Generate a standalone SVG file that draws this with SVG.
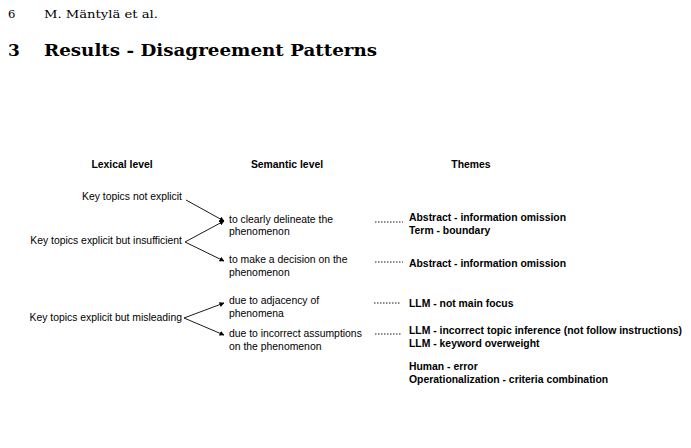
<svg xmlns="http://www.w3.org/2000/svg" width="691" height="448" viewBox="0 0 691 448">
<defs>
<marker id="ah" viewBox="0 0 10 10" refX="9" refY="5" markerWidth="5" markerHeight="5" orient="auto" markerUnits="userSpaceOnUse">
<path d="M0,0 L10,5 L0,10 z" fill="#000"/>
</marker>
<style>
.pg{font-family:"DejaVu Serif","Liberation Serif",serif;font-size:11.5px;fill:#000}
.ttl{font-family:"DejaVu Serif","Liberation Serif",serif;font-size:17px;font-weight:bold;fill:#000}
.hd{font-family:"Liberation Sans",Arial,sans-serif;font-size:10.4px;font-weight:bold;fill:#000}
.tx{font-family:"Liberation Sans",Arial,sans-serif;font-size:10.4px;fill:#000}
.th{font-family:"Liberation Sans",Arial,sans-serif;font-size:10.4px;font-weight:bold;fill:#000}
.ar{stroke:#000;stroke-width:0.9;fill:none;marker-end:url(#ah)}
.dt{stroke:#000;stroke-width:0.9;fill:none;stroke-dasharray:1.5 1.5}
</style>
</defs>
<rect width="691" height="448" fill="#fff"/>
<g id="page-header">
<text class="pg" x="8" y="18">6</text>
<text class="pg" x="44" y="18" textLength="114" lengthAdjust="spacingAndGlyphs">M. Mäntylä et al.</text>
<text class="ttl" x="8" y="56">3</text>
<text class="ttl" x="44" y="56" textLength="333" lengthAdjust="spacingAndGlyphs">Results - Disagreement Patterns</text>
</g>
<g id="headers">
<text class="hd" x="122" y="168" text-anchor="middle">Lexical level</text>
<text class="hd" x="287" y="168" text-anchor="middle">Semantic level</text>
<text class="hd" x="471" y="168" text-anchor="middle">Themes</text>
</g>
<g id="lex-not-explicit"><text class="tx" x="182" y="200" text-anchor="end">Key topics not explicit</text></g>
<g id="lex-insufficient"><text class="tx" x="182" y="244" text-anchor="end">Key topics explicit but insufficient</text></g>
<g id="lex-misleading"><text class="tx" x="182" y="321" text-anchor="end">Key topics explicit but misleading</text></g>
<g id="sem-delineate"><text class="tx" x="229" y="222.5">to clearly delineate the<tspan x="229" dy="12.5">phenomenon</tspan></text></g>
<g id="sem-decision"><text class="tx" x="229" y="263">to make a decision on the<tspan x="229" dy="12.5">phenomenon</tspan></text></g>
<g id="sem-adjacency"><text class="tx" x="229" y="304">due to adjacency of<tspan x="229" dy="12.5">phenomena</tspan></text></g>
<g id="sem-assumptions"><text class="tx" x="229" y="337">due to incorrect assumptions<tspan x="229" dy="12.5">on the phenomenon</tspan></text></g>
<g id="theme-1"><text class="th" x="409" y="221">Abstract - information omission<tspan x="409" dy="12.5">Term - boundary</tspan></text></g>
<g id="theme-2"><text class="th" x="409" y="267">Abstract - information omission</text></g>
<g id="theme-3"><text class="th" x="409" y="307">LLM - not main focus</text></g>
<g id="theme-4"><text class="th" x="409" y="334">LLM - incorrect topic inference (not follow instructions)<tspan x="409" dy="12.5">LLM - keyword overweight</tspan></text></g>
<g id="theme-5"><text class="th" x="409" y="370">Human - error<tspan x="409" dy="12.5">Operationalization - criteria combination</tspan></text></g>
<g id="connectors">
<line class="ar" x1="186" y1="200" x2="224" y2="221"/>
<line class="ar" x1="185" y1="242" x2="224" y2="221"/>
<line class="ar" x1="185" y1="242" x2="224" y2="261"/>
<line class="ar" x1="184" y1="318" x2="224" y2="303"/>
<line class="ar" x1="184" y1="318" x2="224" y2="335"/>
<line class="dt" x1="375" y1="222" x2="403" y2="222"/>
<line class="dt" x1="375" y1="262" x2="403" y2="262"/>
<line class="dt" x1="374" y1="303" x2="401" y2="303"/>
<line class="dt" x1="375" y1="334" x2="402" y2="334"/>
</g>
</svg>
